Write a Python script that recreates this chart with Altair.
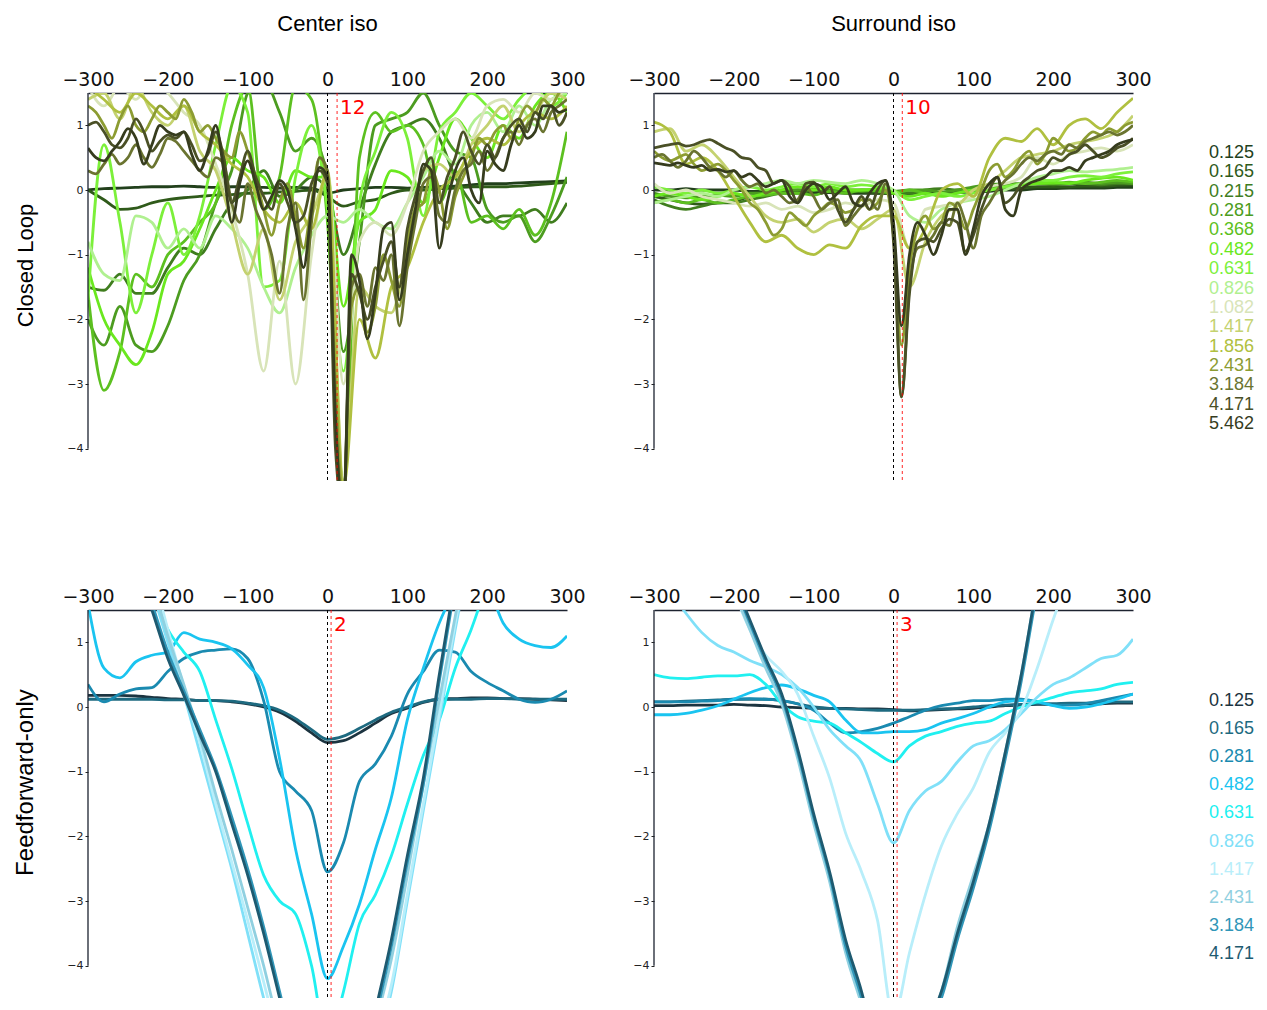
import altair as alt
import pandas as pd

# ---------------- x grids ----------------
X10 = list(range(-300, 301, 10))
X20 = list(range(-300, 301, 20))

# ---------------- legends ----------------
CL_LABELS = ["0.125", "0.165", "0.215", "0.281", "0.368", "0.482", "0.631", "0.826",
             "1.082", "1.417", "1.856", "2.431", "3.184", "4.171", "5.462"]
CL_COLORS = ["#22401c", "#2f5a1a", "#3f7d1e", "#4c9c20", "#5cc020", "#6ae81e", "#7cf03a",
             "#b0f090", "#d8e4b8", "#c4d270", "#b0c040", "#8c9c32", "#6a7430", "#4a5026", "#363c1e"]
FF_LABELS = ["0.125", "0.165", "0.281", "0.482", "0.631", "0.826", "1.417", "2.431", "3.184", "4.171"]
FF_COLORS = ["#1c3440", "#1e6a80", "#1a8ab0", "#1ac4f0", "#20f0f0", "#80e0f8",
             "#b8eefa", "#90d0e0", "#3096b8", "#1e5a70"]

COL_TITLES = ["Center iso", "Surround iso"]
ROW_TITLES = ["Closed Loop", "Feedforward-only"]
RED_TEXT = ["12", "10", "2", "3"]
RED_POS = [12, 11, 4.5, 4.5]

# ---------------- Closed loop, Center iso ----------------
TL_0125 = [0.0, 0.02, 0.03, 0.04, 0.05, 0.05, 0.06, 0.05, 0.04, 0.05,
           0.05, 0.04, 0.03, 0.04, 0.03, -0.05, 0.0, 0.02, 0.04, 0.04,
           0.03, 0.04, 0.05, 0.06, 0.08, 0.1, 0.1, 0.11, 0.12, 0.13,
           0.14]
TL_0165 = [0.0, -0.15, -0.3, -0.28, -0.2, -0.15, -0.12, -0.1, -0.08, -0.07,
           -0.05, -0.05, -0.03, -0.02, 0.0, -0.1, -0.25, -0.18, -0.15, -0.05,
           0.0, 0.0, 0.02, 0.03, 0.05, 0.05, 0.05, 0.06, 0.08, 0.1,
           0.12]
TL_0215 = [-1.5, -1.55, -1.3, -1.6, -1.6, -1.2, -0.9, -1.0, -0.6, -0.2,
           0.0, 0.3, -0.1, 0.0, 0.2, 0.0, -1.0, -0.3, 0.4, 0.9,
           1.0, 1.1, 0.8, 0.2, -0.2, -0.5, -0.4, -0.4, -0.3, -0.5,
           -0.2]
TL_0281 = [-2.0, -2.4, -1.8, -2.4, -2.5, -2.1, -1.4, -1.0, -0.2, 0.3,
           1.5, 1.7, 1.2, 0.6, 0.8, 0.2, -2.5, -0.8, 1.0, 1.1,
           1.2, 1.5, 1.0, 0.6, 0.5, -0.3, -0.5, -0.4, -0.8, -0.4,
           0.2]
TL_0368 = [-1.6, -3.1, -2.5, -1.3, -1.5, -1.0, -0.8, -0.5, -0.2, 1.0,
           1.6, -0.3, 0.2, 1.6, 1.4, -0.5, -4.5, 0.5, 1.2, 0.9,
           1.0, 0.7, -0.2, 0.3, -0.5, -0.4, -0.6, -0.3, -0.7, -0.2,
           0.9]
TL_0482 = [-1.2, -2.0, -2.4, -2.7, -2.2, -1.3, -1.1, -0.6, 0.0, 0.5,
           0.3, 0.2, -0.2, 0.3, 0.2, 0.2, -1.8, -0.5, -0.3, 0.3,
           0.2, -0.2, 0.5, 1.1, 0.8, 0.5, 1.0, 0.8, 1.3, 1.5,
           1.2]
TL_0631 = [-1.7, 0.7, -0.5, -1.9, -1.0, -0.2, -1.0, -0.4, 0.7, 1.6,
           1.2, -1.5, -1.4, 0.2, 1.0, -0.3, -2.8, -0.2, 0.6, 1.2,
           0.8, -0.4, 0.9, 1.2, 1.5, 1.3, 1.1, 1.4, 1.6, 1.3,
           1.5]
TL_0826 = [-0.8, -1.3, -1.4, -0.4, -0.5, -0.9, -0.6, -0.9, -0.4, -0.6,
           -0.9, -1.5, -1.9, -1.2, -0.7, -0.4, -0.5, -0.3, -0.5, -0.6,
           -0.2, 0.2, 0.6, 0.4, 1.0, 1.2, 0.9, 1.3, 1.0, 1.4,
           1.5]
TL_1082 = [1.6, 1.3, 1.6, 1.4, 1.7, 1.5, 1.2, 1.0, 0.4, -0.3,
           -1.3, -2.8, -1.1, -3.0, -1.0, 0.3, -3.0, -0.8, -0.5, -0.7,
           -0.2, 0.6, 0.9, 1.1, 0.8, 1.3, 1.4, 1.2, 1.5, 1.4,
           1.6]
TL_1417 = [1.4, 1.5, 1.1, 1.6, 1.2, 1.0, 1.3, 0.6, 0.3, -0.5,
           -1.3, -0.6, -1.7, -0.8, -0.4, 0.2, -4.5, -1.5, -1.8, -1.9,
           -0.9, 0.3, 0.4, 0.2, 0.7, 1.0, 1.3, 0.9, 1.2, 1.5,
           1.4]
TL_1856 = [1.6, 1.4, 1.2, 1.5, 1.3, 1.1, 1.3, 0.9, 0.7, 0.4,
           0.2, -0.3, -0.5, -0.2, -0.6, 0.3, -4.6, -2.0, -2.6, -1.5,
           -1.2, -0.5, 0.0, 0.2, 0.6, 0.8, 0.7, 1.0, 1.2, 1.1,
           1.3]
TL_2431 = [1.3, 1.2, 1.0, 0.8, 1.1, 1.3, 1.0, 0.9, 1.1, 1.3,
           1.2, 1.1, 1.4, 1.2, 0.9, 1.0, 0.8, 0.6, 0.5, 0.9,
           0.6, 0.2, -0.3, -0.7, -0.2, 0.1, -0.4, -0.9, -0.2, 0.5,
           0.2, -3.0, -4.8, -1.8, -1.5, -2.2, -1.8, -1.0, -1.4, -1.8,
           -0.8, -0.3, -0.2, 0.3, 0.0, -0.6, -0.1, 0.2, 0.5, 0.8,
           0.7, 0.9, 1.0, 0.8, 1.1, 1.3, 1.2, 1.4, 1.3, 1.5,
           1.6]
TL_3184 = [0.3, 0.25, 0.4, 0.55, 0.4, 0.5, 0.7, 0.5, 0.35, 0.55,
           0.8, 0.75, 0.6, 0.45, 0.3, 0.2, 0.5, 0.4, -0.2, -0.5,
           0.1, -0.3, -0.6, -1.0, -1.6, -0.6, -0.2, -1.7, -0.5, 0.5,
           0.3, -3.6, -4.8, -1.5, -1.3, -1.8, -1.2, -1.4, -1.0, -2.1,
           -1.2, -0.5, 0.1, 0.2, -0.4, -0.5, 0.0, 0.3, 0.4, 0.6,
           0.3, 0.5, 0.8, 0.9, 0.7, 1.0, 1.1, 0.9, 1.2, 1.3,
           1.4]
TL_4171 = [1.0, 1.05, 0.9, 0.7, 0.65, 0.8, 1.1, 0.9, 0.6, 0.75,
           0.85, 0.8, 0.9, 0.7, 0.45, 0.55, 0.9, 0.5, -0.2, 0.2,
           0.6, 0.2, -0.1, -0.3, 0.1, -0.2, -0.5, -0.4, 0.1, 0.3,
           0.1, -4.0, -5.0, -1.3, -1.6, -2.0, -1.5, -1.1, -0.8, -1.5,
           -0.6, -0.1, 0.3, 0.5, -0.2, 0.2, 0.5, 0.9, 0.6, 0.4,
           0.7, 0.5, 0.8, 1.0, 1.1, 0.9, 1.2, 1.1, 1.3, 1.0,
           1.2]
TL_5462 = [0.65, 0.5, 0.45, 0.6, 0.75, 0.95, 0.8, 0.4, 0.7, 1.0,
           0.9, 0.85, 0.9, 0.55, 0.3, 0.6, 1.0, 0.3, -0.5, 0.1,
           0.45, 0.1, -0.3, -0.1, 0.15, 0.0, -0.6, -1.2, -0.3, 0.35,
           0.2, -3.5, -5.0, -1.0, -1.4, -2.3, -1.6, -0.6, -0.5, -1.7,
           -1.0, -0.3, 0.4, 0.3, -0.9, -0.2, 0.3, 0.5, 0.0, -0.2,
           0.6, 0.4, 0.3, 0.7, 1.0, 0.8, 0.9, 1.3, 1.3, 1.2,
           1.25]

# ---------------- Closed loop, Surround iso ----------------
TR_0125 = [0.0, 0.0, 0.02, 0.0, 0.0, 0.0, -0.02, -0.02, -0.03, -0.03,
           -0.04, -0.04, -0.05, -0.05, -0.05, -0.05, -0.05, -0.04, -0.05, -0.04,
           -0.03, -0.02, 0.0, 0.0, 0.02, 0.02, 0.03, 0.03, 0.03, 0.04,
           0.04]
TR_0165 = [-0.1, -0.15, -0.2, -0.22, -0.2, -0.18, -0.1, -0.05, -0.02, 0.0,
           0.0, -0.02, -0.03, -0.03, -0.05, -0.05, -0.05, -0.05, -0.05, -0.02,
           0.0, 0.02, 0.02, 0.03, 0.05, 0.05, 0.05, 0.06, 0.06, 0.07,
           0.08]
TR_0215 = [-0.15, -0.25, -0.3, -0.25, -0.2, -0.2, -0.15, -0.1, -0.05, -0.05,
           0.0, -0.02, 0.0, 0.0, 0.0, -0.05, -0.05, 0.0, 0.02, 0.0,
           0.02, 0.05, 0.08, 0.08, 0.1, 0.08, 0.1, 0.1, 0.08, 0.1,
           0.1]
TR_0281 = [-0.05, -0.1, -0.12, -0.1, -0.08, -0.1, -0.05, -0.05, 0.0, 0.0,
           0.02, 0.0, 0.0, -0.02, 0.0, -0.02, 0.0, 0.0, -0.03, 0.0,
           0.05, 0.08, 0.1, 0.1, 0.12, 0.1, 0.1, 0.12, 0.1, 0.12,
           0.1]
TR_0368 = [-0.2, -0.15, -0.2, -0.15, -0.2, -0.15, -0.1, -0.08, -0.05, -0.05,
           -0.08, -0.02, -0.05, 0.0, -0.02, -0.05, 0.0, -0.05, -0.08, -0.05,
           0.0, 0.02, 0.05, 0.08, 0.1, 0.1, 0.12, 0.1, 0.12, 0.15,
           0.12]
TR_0482 = [-0.1, -0.05, -0.1, -0.15, -0.1, -0.05, -0.1, -0.05, 0.0, 0.05,
           0.0, 0.05, 0.0, 0.0, 0.02, -0.05, -0.1, -0.05, -0.1, -0.05,
           0.0, 0.0, 0.05, 0.08, 0.1, 0.12, 0.1, 0.15, 0.18, 0.2,
           0.15]
TR_0631 = [0.05, 0.0, -0.05, 0.0, -0.05, 0.0, 0.05, 0.0, 0.05, 0.1,
           0.05, 0.1, 0.05, 0.08, 0.05, 0.0, -0.15, -0.1, -0.05, -0.1,
           -0.05, 0.0, 0.05, 0.1, 0.15, 0.15, 0.2, 0.22, 0.2, 0.25,
           0.28]
TR_0826 = [-0.2, -0.15, -0.1, -0.05, -0.1, 0.0, 0.05, 0.1, 0.15, 0.1,
           0.15, 0.12, 0.1, 0.15, 0.1, 0.0, -0.4, -0.5, -0.3, -0.2,
           -0.15, -0.1, 0.0, 0.1, 0.2, 0.25, 0.3, 0.28, 0.3, 0.32,
           0.35]
TR_1082 = [0.1, -0.05, 0.0, -0.1, -0.15, -0.2, -0.25, -0.2, -0.3, -0.25,
           -0.35, -0.3, -0.2, -0.25, -0.15, -0.2, -0.9, -0.3, -0.25, -0.2,
           -0.1, 0.05, 0.1, 0.2, 0.5, 0.4, 0.55, 0.6, 0.65, 0.6,
           0.7]
TR_1417 = [0.9, 0.95, 0.6, 0.7, 0.5, 0.2, -0.1, -0.4, -0.5, -0.45,
           -0.65, -0.5, -0.45, -0.6, -0.45, -0.3, -1.5, -0.8, -0.4, -0.25,
           0.0, 0.1, 0.3, 0.5, 0.55, 0.6, 0.7, 0.75, 0.8, 0.9,
           1.15]
TR_1856 = [1.05, 0.9, 0.4, 0.5, 0.3, -0.1, -0.5, -0.8, -0.7, -0.9,
           -1.0, -0.85, -0.9, -0.55, -0.4, -0.4, -0.9, -0.6, 0.0, 0.1,
           -0.1, 0.5, 0.8, 0.75, 0.95, 0.7, 1.0, 1.1, 0.95, 1.2,
           1.42]
TR_2431 = [0.6, 0.5, 0.45, 0.5, 0.55, 0.4, 0.3, 0.35, 0.4, 0.3,
           0.15, 0.0, -0.2, -0.3, -0.5, -0.7, -0.6, -0.35, -0.45, -0.55,
           -0.4, -0.3, -0.2, -0.25, -0.35, -0.3, -0.15, -0.3, -0.2, 0.0,
           -0.7, -2.4, -1.2, -0.6, -0.4, -0.6, -0.5, -0.2, -0.3, -0.6,
           -0.3, 0.0, 0.3, 0.4, 0.2, 0.3, 0.5, 0.6, 0.4, 0.55,
           0.8, 0.7, 0.6, 0.65, 0.8, 0.9, 0.85, 0.95, 0.9, 1.0,
           1.05]
TR_3184 = [0.5, 0.55, 0.45, 0.35, 0.45, 0.6, 0.5, 0.35, 0.3, 0.2,
           0.3, 0.15, 0.05, 0.1, -0.05, 0.0, -0.1, -0.2, -0.15, 0.05,
           -0.1, -0.3, -0.2, -0.15, -0.55, -0.4, -0.25, -0.15, -0.3, 0.1,
           -0.6, -3.2, -1.5, -0.9, -0.85, -0.7, -0.5, -0.55, -0.2, -0.5,
           -0.9, -0.4, -0.2, 0.0, 0.15, 0.25, 0.4, 0.5, 0.45, 0.55,
           0.6, 0.55, 0.7, 0.65, 0.75, 0.8, 0.85, 0.9, 0.85, 0.9,
           1.0]
TR_4171 = [0.65, 0.68, 0.7, 0.72, 0.68, 0.7, 0.75, 0.78, 0.72, 0.65,
           0.6, 0.5, 0.48, 0.35, 0.3, 0.1, 0.15, 0.05, -0.2, 0.1,
           0.12, -0.05, 0.05, -0.3, -0.5, -0.3, -0.1, -0.3, 0.0, 0.15,
           -0.8, -3.2, -1.6, -0.8, -0.75, -0.8, -0.6, -0.45, -0.5, -0.95,
           -0.7, -0.3, 0.0, 0.2, -0.2, -0.1, 0.1, 0.2, 0.3, 0.35,
           0.5, 0.45, 0.55, 0.6, 0.7, 0.6, 0.5, 0.55, 0.65, 0.7,
           0.8]
TR_5462 = [0.42, 0.4, 0.38, 0.42, 0.38, 0.35, 0.38, 0.3, 0.32, 0.28,
           0.3, 0.2, 0.25, 0.15, 0.05, 0.1, 0.15, -0.1, -0.2, 0.0,
           0.1, 0.05, -0.15, -0.05, 0.05, -0.2, -0.25, -0.05, 0.1, 0.15,
           -0.5, -2.1, -1.0, -0.5, -0.7, -1.0, -0.7, -0.3, -0.3, -1.0,
           -0.6, -0.1, 0.1, 0.2, -0.3, -0.4, 0.0, 0.1, 0.15, 0.2,
           0.3, 0.3, 0.35, 0.3, 0.45, 0.5, 0.55, 0.6, 0.7, 0.75,
           0.78]

# ---------------- Feedforward-only, Center iso ----------------
BL_0125 = [0.18, 0.18, 0.18, 0.17, 0.15, 0.13, 0.12, 0.1, 0.1, 0.08,
           0.05, 0.0, -0.08, -0.22, -0.4, -0.55, -0.52, -0.4, -0.25, -0.1,
           -0.02, 0.07, 0.12, 0.13, 0.14, 0.14, 0.13, 0.13, 0.12, 0.11,
           0.1]
BL_0165 = [0.12, 0.12, 0.12, 0.12, 0.12, 0.11, 0.11, 0.1, 0.1, 0.09,
           0.06, 0.02, -0.05, -0.18, -0.35, -0.5, -0.45, -0.33, -0.2, -0.08,
           0.0, 0.08, 0.12, 0.12, 0.12, 0.13, 0.13, 0.12, 0.12, 0.12,
           0.12]
BL_0281 = [0.35, 0.08, 0.2, 0.28, 0.3, 0.55, 0.75, 0.85, 0.88, 0.9,
           0.75, 0.1, -1.0, -1.3, -1.6, -2.55, -2.1, -1.15, -0.88, -0.45,
           0.2, 0.55, 0.88, 0.85, 0.55, 0.38, 0.25, 0.12, 0.07, 0.12,
           0.25]
BL_0482 = [1.6, 0.6, 0.45, 0.7, 0.8, 0.85, 1.15, 1.05, 1.0, 0.9,
           0.65, 0.3, -0.8, -2.2, -3.2, -4.2, -3.7, -3.05, -2.2, -1.4,
           -0.2, 0.6, 1.3, 1.8, 2.1, 1.9, 1.3, 1.05, 0.95, 0.92,
           1.1]
BL_0631 = [4.5, 3.8, 3.0, 2.4, 1.8, 1.2, 0.85, 0.55, -0.2, -0.95,
           -1.8, -2.6, -3.0, -3.2, -4.0, -5.2, -4.4, -3.35, -2.9, -2.3,
           -1.5, -0.75, -0.2, 0.6, 1.2, 1.9, 2.5, 3.0, 3.5, 4.0,
           4.5]
BL_0826 = [4.3, 3.6, 3.0, 2.4, 1.8, 1.0, 0.2, -0.7, -1.6, -2.5,
           -3.5, -4.5, -5.4, -6.2, -6.8, -7.0, -6.8, -6.1, -5.3, -4.4,
           -3.0, -1.6, -0.2, 1.2, 2.5, 3.7, 4.7, 5.5, 6.1, 6.7,
           7.1]
BL_1417 = [4.6, 3.9, 3.3, 2.7, 2.1, 1.2, 0.3, -0.55, -1.5, -2.4,
           -3.3, -4.25, -5.2, -6.0, -6.6, -6.8, -6.6, -6.0, -5.2, -4.3,
           -2.9, -1.5, -0.1, 1.3, 2.6, 3.8, 4.8, 5.6, 6.2, 6.8,
           7.2]
BL_2431 = [4.5, 3.8, 3.1, 2.5, 1.9, 1.1, 0.35, -0.45, -1.35, -2.2,
           -3.1, -4.0, -5.0, -5.8, -6.4, -6.6, -6.4, -5.8, -4.9, -3.9,
           -2.6, -1.2, 0.1, 1.4, 2.7, 3.8, 4.8, 5.6, 6.2, 6.8,
           7.2]
BL_3184 = [4.4, 3.8, 3.1, 2.3, 1.6, 0.85, 0.25, -0.35, -0.95, -1.7,
           -2.5, -3.4, -4.4, -5.4, -6.2, -6.7, -6.4, -5.7, -4.8, -3.7,
           -2.4, -1.2, 0.4, 1.9, 3.3, 4.5, 5.4, 6.0, 6.5, 7.0,
           7.5]
BL_4171 = [4.3, 3.7, 3.0, 2.2, 1.5, 0.75, 0.18, -0.42, -1.0, -1.8,
           -2.6, -3.5, -4.5, -5.5, -6.3, -6.8, -6.5, -5.8, -4.7, -3.6,
           -2.3, -1.1, 0.5, 2.0, 3.4, 4.6, 5.5, 6.0, 6.5, 7.0,
           7.5]

# ---------------- Feedforward-only, Surround iso ----------------
BR_0125 = [0.02, 0.02, 0.03, 0.03, 0.03, 0.04, 0.03, 0.02, 0.0, -0.01,
           -0.02, -0.02, -0.02, -0.03, -0.03, -0.04, -0.06, -0.05, -0.04, -0.03,
           -0.02, 0.0, 0.02, 0.03, 0.04, 0.04, 0.05, 0.05, 0.05, 0.06,
           0.06]
BR_0165 = [0.08, 0.08, 0.09, 0.1, 0.11, 0.12, 0.12, 0.12, 0.1, 0.05,
           0.0, -0.02, -0.03, -0.04, -0.05, -0.05, -0.05, -0.04, -0.03, -0.02,
           0.0, 0.02, 0.03, 0.04, 0.05, 0.05, 0.06, 0.06, 0.07, 0.08,
           0.08]
BR_0281 = [0.08, 0.08, 0.08, 0.09, 0.1, 0.12, 0.13, 0.12, 0.1, 0.05,
           -0.05, -0.25, -0.4, -0.38, -0.33, -0.25, -0.15, -0.05, 0.02, 0.06,
           0.1, 0.1, 0.12, 0.12, 0.08, 0.03, 0.03, 0.05, 0.1, 0.15,
           0.2]
BR_0482 = [-0.12, -0.12, -0.1, -0.05, 0.02, 0.12, 0.22, 0.3, 0.34, 0.28,
           0.18, 0.08, -0.2, -0.4, -0.4, -0.38, -0.38, -0.35, -0.25, -0.18,
           -0.1, 0.0, 0.08, 0.1, 0.08, 0.02, -0.02, 0.0, 0.05, 0.12,
           0.2]
BR_0631 = [0.5, 0.45, 0.44, 0.46, 0.48, 0.48, 0.5, 0.35, 0.05, -0.15,
           -0.22, -0.25, -0.4, -0.55, -0.72, -0.85, -0.6, -0.45, -0.38, -0.3,
           -0.25, -0.22, -0.1, 0.0, 0.08, 0.15, 0.22, 0.25, 0.28, 0.35,
           0.38]
BR_0826 = [2.2, 1.8, 1.45, 1.15, 0.95, 0.85, 0.72, 0.62, 0.5, 0.3,
           0.0, -0.35, -0.6, -0.85, -1.5, -2.1, -1.6, -1.3, -1.15, -0.85,
           -0.6, -0.52, -0.35, -0.1, 0.15, 0.35, 0.45, 0.6, 0.75, 0.8,
           1.05]
BR_1417 = [4.5, 3.8, 3.1, 2.6, 2.1, 1.75, 1.2, 0.8, 0.55, 0.2,
           -0.45, -1.1, -1.95, -2.55, -3.3, -4.8, -3.8, -2.9, -2.15, -1.65,
           -1.25, -0.7, -0.4, -0.05, 0.6, 1.35, 2.0, 2.6, 3.2, 3.8,
           4.3]
BR_2431 = [5.4, 4.6, 3.8, 3.1, 2.4, 1.8, 1.2, 0.6, 0.05, -0.8,
           -1.8, -2.7, -3.8, -4.6, -5.5, -6.0, -5.6, -5.0, -4.4, -3.4,
           -2.6, -1.8, -0.7, 0.5, 1.9, 3.1, 4.1, 5.0, 5.8, 6.5,
           7.0]
BR_3184 = [5.5, 4.7, 3.9, 3.2, 2.5, 1.9, 1.3, 0.7, 0.15, -0.7,
           -1.7, -2.6, -3.7, -4.5, -5.5, -6.0, -5.6, -5.0, -4.5, -3.6,
           -2.8, -1.9, -0.8, 0.4, 1.8, 3.0, 4.0, 4.9, 5.7, 6.4,
           7.0]
BR_4171 = [5.6, 4.8, 4.0, 3.3, 2.6, 1.95, 1.35, 0.75, 0.2, -0.65,
           -1.65, -2.55, -3.6, -4.4, -5.4, -6.0, -5.6, -5.0, -4.4, -3.5,
           -2.7, -1.8, -0.7, 0.5, 1.9, 3.1, 4.1, 5.0, 5.8, 6.5,
           7.0]

TL = [TL_0125, TL_0165, TL_0215, TL_0281, TL_0368, TL_0482, TL_0631, TL_0826,
      TL_1082, TL_1417, TL_1856, TL_2431, TL_3184, TL_4171, TL_5462]
TR = [TR_0125, TR_0165, TR_0215, TR_0281, TR_0368, TR_0482, TR_0631, TR_0826,
      TR_1082, TR_1417, TR_1856, TR_2431, TR_3184, TR_4171, TR_5462]
BL = [BL_0125, BL_0165, BL_0281, BL_0482, BL_0631, BL_0826, BL_1417, BL_2431, BL_3184, BL_4171]
BR = [BR_0125, BR_0165, BR_0281, BR_0482, BR_0631, BR_0826, BR_1417, BR_2431, BR_3184, BR_4171]

# ---------------- layout constants ----------------
W, H = 479, 388
LEG_W = 61
HSP, VSP = 41, 105
TICK_FONT = "DejaVu Sans"
TEXT_FONT = "Liberation Sans, Arial, sans-serif"
YDOM = [-4.5, 1.5]
XDOM = [-300, 300]
YTICKS = [-4, -3, -2, -1, 0, 1]
XTICKS = [-300, -200, -100, 0, 100, 200, 300]
LABEL_Y = 1.27


def frame(labels, colors, series):
    rows = []
    for lab, col, ys in zip(labels, colors, series):
        xs = X10 if len(ys) > 40 else X20
        for x, y in zip(xs, ys):
            rows.append({"x": x, "y": y, "series": lab, "color": col})
    return pd.DataFrame(rows)


def panel(df, red_x, red_txt, title=None, ytitle=None, ytitle_size=22):
    xs = alt.Scale(domain=XDOM, nice=False, zero=False)
    ys = alt.Scale(domain=YDOM, nice=False, zero=False)
    xaxis = alt.Axis(orient="top", values=XTICKS, title=None, format="d",
                     grid=False, labelFontSize=19, labelFont=TICK_FONT, labelColor="#111",
                     ticks=False, tickSize=0, labelPadding=4, labelFlush=False,
                     labelOverlap=False, domainColor="#1d2330", domainWidth=1.3)
    ykw = dict(values=YTICKS, format="d", domain=False, grid=False, labelFontSize=11,
               labelFont=TICK_FONT, labelColor="#222", tickSize=3, tickColor="#222",
               labelPadding=2)
    if ytitle:
        yaxis = alt.Axis(title=ytitle, titleFontSize=ytitle_size, titleFont=TEXT_FONT,
                         titleFontWeight="normal", titleColor="#000", titleAngle=270,
                         titleX=-63, titleY=172, titleAlign="center", titleBaseline="middle",
                         **ykw)
    else:
        yaxis = alt.Axis(title=None, **ykw)

    lines = alt.Chart(df).mark_line(clip=True, interpolate="monotone", strokeWidth=2.8).encode(
        x=alt.X("x:Q", scale=xs, axis=xaxis),
        y=alt.Y("y:Q", scale=ys, axis=yaxis),
        color=alt.Color("color:N", scale=None),
        detail="series:N",
    )
    spine_df = pd.DataFrame({"x": [XDOM[0]], "y": [YTICKS[0]], "y2": [YDOM[1]]})
    spine = alt.Chart(spine_df).mark_rule(color="#1d2330", strokeWidth=1.3).encode(
        x="x:Q", y="y:Q", y2="y2:Q")
    zero = alt.Chart(pd.DataFrame({"x": [0]})).mark_rule(
        color="black", strokeDash=[3, 3], strokeWidth=1).encode(x="x:Q")
    red = alt.Chart(pd.DataFrame({"x": [red_x]})).mark_rule(
        color="red", strokeDash=[3, 3], strokeWidth=1, opacity=0.85).encode(x="x:Q")
    lab = alt.Chart(pd.DataFrame({"x": [red_x], "y": [LABEL_Y], "t": [red_txt]})).mark_text(
        color="red", fontSize=20, font=TICK_FONT, align="left", baseline="middle", dx=3).encode(
        x="x:Q", y="y:Q", text="t:N")
    ch = alt.layer(lines, spine, zero, red, lab).properties(width=W, height=H)
    if title:
        ch = ch.properties(title=alt.Title(title, fontSize=22, font=TEXT_FONT, fontWeight="normal",
                                           color="#000", offset=34, anchor="middle"))
    return ch


def legend(labels, colors, lo, hi):
    ld = pd.DataFrame({"idx": list(range(len(labels))), "label": labels, "color": colors})
    return alt.Chart(ld).mark_text(align="right", baseline="middle", fontSize=18,
                                   font=TEXT_FONT).encode(
        x=alt.value(LEG_W),
        y=alt.Y("idx:Q", scale=alt.Scale(domain=[lo, hi], reverse=True, nice=False, zero=False),
                axis=None),
        text="label:N",
        color=alt.Color("color:N", scale=None),
    ).properties(width=LEG_W, height=H)


p_tl = panel(frame(CL_LABELS, CL_COLORS, TL), RED_POS[0], RED_TEXT[0], COL_TITLES[0], ROW_TITLES[0])
p_tr = panel(frame(CL_LABELS, CL_COLORS, TR), RED_POS[1], RED_TEXT[1], COL_TITLES[1])
p_bl = panel(frame(FF_LABELS, FF_COLORS, BL), RED_POS[2], RED_TEXT[2], None, ROW_TITLES[1], 24)
p_br = panel(frame(FF_LABELS, FF_COLORS, BR), RED_POS[3], RED_TEXT[3])

leg1 = legend(CL_LABELS, CL_COLORS, -3.10, 16.94)
leg2 = legend(FF_LABELS, FF_COLORS, -3.24, 10.57)

row1 = alt.hconcat(p_tl, p_tr, leg1, spacing=HSP).resolve_scale(x="independent", y="independent")
row2 = alt.hconcat(p_bl, p_br, leg2, spacing=HSP).resolve_scale(x="independent", y="independent")

chart = alt.vconcat(row1, row2, spacing=VSP).resolve_scale(
    x="independent", y="independent"
).properties(
    padding={"left": 5, "top": 5, "right": 0, "bottom": 0}, background="white"
).configure_view(stroke=None)

chart.save("out.html", embed_options={"renderer": "svg", "actions": False})
